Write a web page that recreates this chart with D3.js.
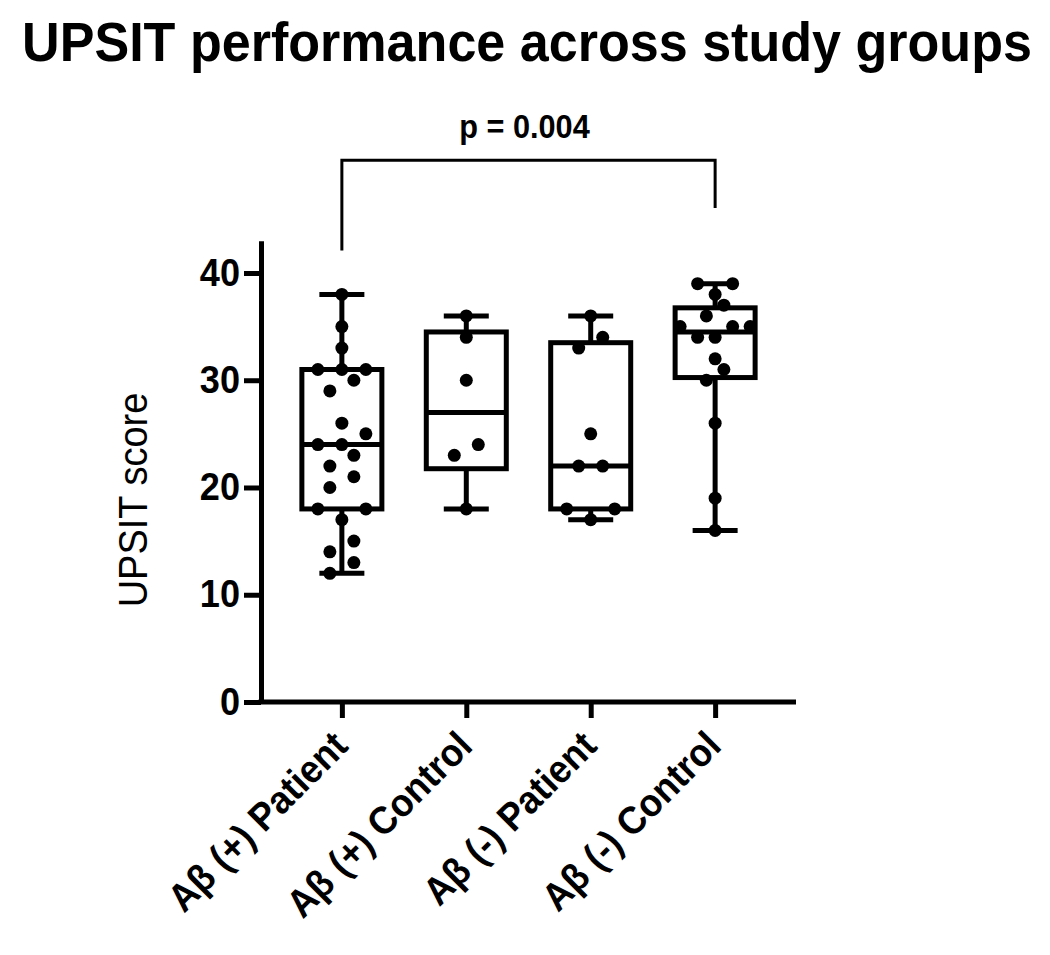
<!DOCTYPE html>
<html>
<head>
<meta charset="utf-8">
<script src="https://cdn.jsdelivr.net/npm/d3@7"></script>
<style>
  body { margin: 0; background: #fff; }
  text { font-family: "Liberation Sans", Arial, sans-serif; fill: #000; }
</style>
</head>
<body>
<svg id="chart" width="1050" height="955"></svg>
<script>
// Data
const groups = ["Aβ (+) Patient", "Aβ (+) Control", "Aβ (-) Patient", "Aβ (-) Control"];
const posPatient = [38, 35, 33, 31, 31, 31, 30, 29, 26, 25, 24, 24, 23, 22, 21, 20, 18, 18, 17, 15, 14, 13, 12];
const posControl = [36, 34, 30, 24, 23, 18];
const negPatient = [36, 34, 33, 25, 22, 22, 18, 18, 17];
const negControl = [39, 39, 38, 37, 36, 35, 35, 35, 34, 34, 32, 31, 30, 26, 19, 16];
const yTicks = [0, 10, 20, 30, 40];
const titleText = "UPSIT performance across study groups";
const yLabelText = "UPSIT score";
const pText = "p = 0.004";

const groupValues = [posPatient, posControl, negPatient, negControl];

const svg = d3.select("#chart");
const FONT = '"Liberation Sans", Arial, sans-serif';

// Scales
const y = d3.scaleLinear().domain([0, 43]).range([702, 240.8]);
const x = d3.scalePoint().domain(groups).range([261, 796]).padding(0.65);

const boxHalf = 40;
const capHalf = 22.5;
const dotR = 6.5;
const lineW = 5;

// squeeze text a bit, the original font is narrower than Arial
const squeeze = (sel, k) =>
  sel.each(function () {
    const w = this.getComputedTextLength();
    d3.select(this).attr("textLength", w * k).attr("lengthAdjust", "spacingAndGlyphs");
  });

// GraphPad style quartiles: position (n + 1) * p
const quart = (sorted, p) => {
  const n = sorted.length;
  const h = (n + 1) * p;
  if (h <= 1) return sorted[0];
  if (h >= n) return sorted[n - 1];
  const lo = Math.floor(h);
  return sorted[lo - 1] + (h - lo) * (sorted[lo] - sorted[lo - 1]);
};

// scatter layout: dots closer than a diameter share a row, rows spread out from the centre
const scatterRows = (vals, cx) => {
  const sorted = vals.slice().sort(d3.ascending);
  const rows = [];
  sorted.forEach((v) => {
    const last = rows[rows.length - 1];
    if (last && Math.abs(y(last[0]) - y(v)) < dotR * 2) last.push(v);
    else rows.push([v]);
  });
  const widest = d3.max(rows, (r) => r.length);
  const gap = widest > 1 ? Math.min(24, 70 / (widest - 1)) : 0;
  const out = [];
  rows.forEach((r) => {
    const n = r.length;
    // slots ordered centre-out: left first
    const slots = d3.range(n).map((i) => i - (n - 1) / 2)
      .sort((a, b) => Math.abs(a) - Math.abs(b) || a - b);
    r.forEach((v, i) => out.push({ x: cx + slots[i] * gap, y: y(v), v }));
  });
  return out;
};

// Title (narrowed with a transform so its box stays inside the page)
svg.append("text")
  .attr("transform", "translate(527,61) scale(0.93,1)")
  .attr("text-anchor", "middle")
  .attr("font-family", FONT)
  .style("font-size", "56px")
  .style("font-weight", "bold")
  .text(titleText);

// Y axis
const yAxis = svg.append("g")
  .attr("transform", `translate(${x.range()[0]},0)`)
  .call(d3.axisLeft(y).tickValues(yTicks).tickSize(17).tickSizeOuter(0).tickPadding(4));
yAxis.select(".domain").attr("stroke-width", lineW).attr("stroke", "#000");
yAxis.selectAll(".tick line").attr("stroke-width", lineW).attr("stroke", "#000");
yAxis.selectAll(".tick text")
  .attr("font-family", FONT)
  .style("font-size", "38px")
  .style("font-weight", "bold")
  .attr("fill", "#000")
  .call(squeeze, 0.95);

// X axis
const xAxis = svg.append("g")
  .attr("transform", `translate(0,${y(0)})`)
  .call(d3.axisBottom(x).tickSize(16).tickSizeOuter(0).tickFormat(""));
xAxis.select(".domain").attr("stroke-width", lineW).attr("stroke", "#000")
  .attr("d", `M${x.range()[0] - lineW / 2},0H${x.range()[1]}`);
xAxis.selectAll(".tick line").attr("stroke-width", lineW).attr("stroke", "#000");

svg.append("g")
  .selectAll("text")
  .data(groups)
  .enter()
  .append("text")
  .attr("transform", (d) => `translate(${x(d) + 8},748) rotate(-45)`)
  .attr("text-anchor", "end")
  .attr("font-family", FONT)
  .style("font-size", "39px")
  .style("font-weight", "bold")
  .text((d) => d)
  .call(squeeze, 0.93);

// Y label
svg.append("text")
  .attr("transform", `translate(147,500) rotate(-90)`)
  .attr("text-anchor", "middle")
  .attr("font-family", FONT)
  .style("font-size", "40px")
  .text(yLabelText)
  .call(squeeze, 0.95);

// Boxes
const stats = groups.map((g, i) => {
  const s = groupValues[i].slice().sort(d3.ascending);
  return {
    g,
    min: s[0],
    max: s[s.length - 1],
    q1: quart(s, 0.25),
    med: quart(s, 0.5),
    q3: quart(s, 0.75),
  };
});

const boxes = svg.append("g")
  .selectAll("g")
  .data(stats)
  .enter()
  .append("g")
  .attr("stroke", "#000")
  .attr("stroke-width", lineW)
  .attr("fill", "none");

boxes.append("line")
  .attr("x1", (d) => x(d.g)).attr("x2", (d) => x(d.g))
  .attr("y1", (d) => y(d.q1)).attr("y2", (d) => y(d.min));
boxes.append("line")
  .attr("x1", (d) => x(d.g)).attr("x2", (d) => x(d.g))
  .attr("y1", (d) => y(d.q3)).attr("y2", (d) => y(d.max));
boxes.append("line")
  .attr("x1", (d) => x(d.g) - capHalf).attr("x2", (d) => x(d.g) + capHalf)
  .attr("y1", (d) => y(d.min)).attr("y2", (d) => y(d.min));
boxes.append("line")
  .attr("x1", (d) => x(d.g) - capHalf).attr("x2", (d) => x(d.g) + capHalf)
  .attr("y1", (d) => y(d.max)).attr("y2", (d) => y(d.max));
boxes.append("rect")
  .attr("x", (d) => x(d.g) - boxHalf)
  .attr("width", boxHalf * 2)
  .attr("y", (d) => y(d.q3))
  .attr("height", (d) => y(d.q1) - y(d.q3));
boxes.append("line")
  .attr("x1", (d) => x(d.g) - boxHalf).attr("x2", (d) => x(d.g) + boxHalf)
  .attr("y1", (d) => y(d.med)).attr("y2", (d) => y(d.med));

// Dots
groups.forEach((g, i) => {
  svg.append("g")
    .selectAll("circle")
    .data(scatterRows(groupValues[i], x(g)))
    .enter()
    .append("circle")
    .attr("cx", (d) => d.x)
    .attr("cy", (d) => d.y)
    .attr("r", dotR)
    .attr("fill", "#000");
});

// Significance bracket between first and last group (levels in axis units)
const bracketTop = 50.5, leftLeg = 42.1, rightLeg = 46.05;
const bx1 = x(groups[0]), bx2 = x(groups[3]);
svg.append("path")
  .attr("d", `M${bx1},${y(leftLeg)}V${y(bracketTop)}H${bx2}V${y(rightLeg)}`)
  .attr("fill", "none")
  .attr("stroke", "#000")
  .attr("stroke-width", 3);
svg.append("text")
  .attr("x", (bx1 + bx2) / 2 - 4)
  .attr("y", 138)
  .attr("text-anchor", "middle")
  .attr("font-family", FONT)
  .style("font-size", "33px")
  .style("font-weight", "bold")
  .text(pText)
  .call(squeeze, 0.93);
</script>
</body>
</html>
